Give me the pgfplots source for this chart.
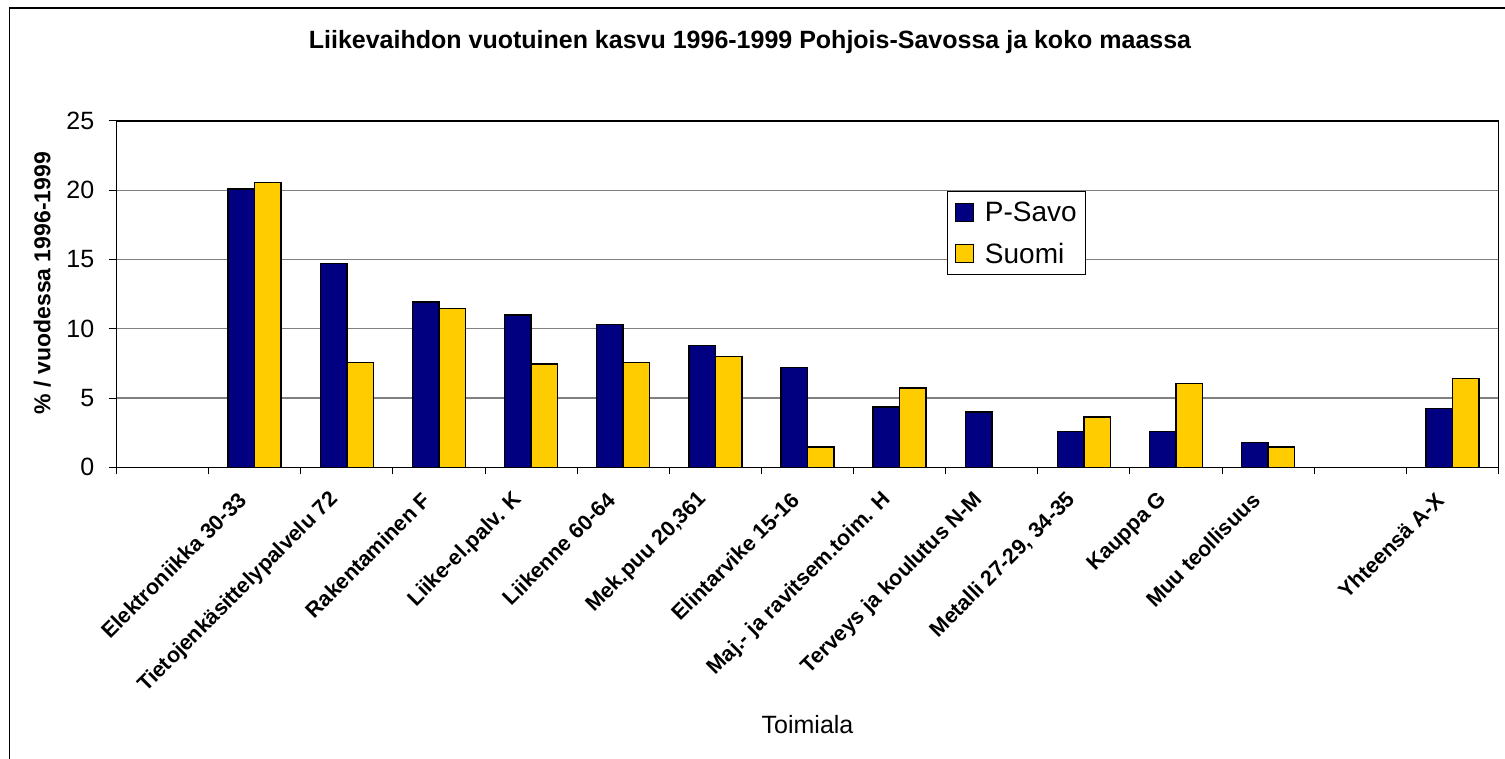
\documentclass[border=0pt]{standalone}
\usepackage{pgfplots}
\pgfplotsset{compat=1.18}
\usepackage{fontspec}
\setmainfont{Liberation Sans}
\definecolor{psavo}{HTML}{000080}
\definecolor{suomi}{HTML}{FFCC00}
\definecolor{gridgray}{HTML}{808080}
\begin{document}
\begin{tikzpicture}
\path[use as bounding box] (0,0) rectangle (1505pt,758pt);
\fill[white] (0,0) rectangle (1505pt,758pt);
\draw[line width=1.2pt] (9.3pt,-3pt) -- (9.3pt,750pt) -- (1510pt,750pt);
\begin{axis}[
  at={(116.5pt,290.7pt)}, anchor=south west,
  scale only axis, width=1382pt, height=346.3pt,
  ybar=0pt, bar width=26.5pt,
  xmin=0.5, xmax=15.5, ymin=0, ymax=25,
  ytick={0,5,10,15,20,25},
  xtick={1,...,15},
  minor xtick={0.5,1.5,...,15.5},
  xticklabels={{},{Elektroniikka 30-33},{Tietojenkäsittelypalvelu 72},{Rakentaminen F},{Liike-el.palv. K},{Liikenne 60-64},{Mek.puu 20,361},{Elintarvike 15-16},{Maj.- ja ravitsem.toim. H},{Terveys ja koulutus N-M},{Metalli 27-29, 34-35},{Kauppa G},{Muu teollisuus},{},{Yhteensä A-X}},
  tick pos=left,
  tick align=outside,
  major tick length=8pt,
  minor tick length=7pt,
  every major x tick/.append style={draw=none},
  tick style={black, line width=1pt},
  axis line style={black, line width=1.5pt},
  ymajorgrids,
  major grid style={gridgray, line width=1.2pt},
  /pgf/number format/assume math mode=true,
  yticklabel style={font=\fontsize{25}{30}\selectfont, anchor=east, inner sep=0pt, xshift=-14pt},
  xticklabel style={font=\bfseries\fontsize{21.5}{26}\selectfont, inner sep=0pt, xshift=-12pt, yshift=-21pt, rotate=45, anchor=east},
  title={Liikevaihdon vuotuinen kasvu 1996-1999 Pohjois-Savossa ja koko maassa},
  title style={at={(rel axis cs:0.4584,1.1906)}, anchor=base, inner sep=0pt, font=\bfseries\fontsize{25}{30}\selectfont},
  xlabel={Toimiala},
  xlabel style={at={(rel axis cs:0.5,-0.7701)}, anchor=base, inner sep=0pt, font=\fontsize{25}{30}\selectfont},
  ylabel={\% / vuodessa 1996-1999},
  ylabel style={at={(rel axis cs:-0.0478,0.532)}, anchor=base, inner sep=0pt, font=\bfseries\fontsize{23}{28}\selectfont},
  legend style={at={(rel axis cs:0.6007,0.7987)}, anchor=north west, draw=black, line width=1pt, fill=white,
    font=\fontsize{28}{33}\selectfont, inner xsep=8.3pt, inner ysep=11.05pt, row sep=21.5pt, column sep=10.5pt,
    nodes={inner sep=0pt, text depth=0pt}},
  legend cell align=left,
]
\addplot[fill=psavo, draw=black, line width=1.5pt,
  legend image code/.code={\draw[fill=psavo, draw=black, line width=1pt] (0pt,-9pt) rectangle (18pt,9pt);}]
  coordinates {(2,20.1) (3,14.7) (4,11.95) (5,11.0) (6,10.3) (7,8.8) (8,7.2) (9,4.35) (10,4.0) (11,2.6) (12,2.6) (13,1.8) (15,4.25)};
\addlegendentry{P-Savo}
\addplot[fill=suomi, draw=black, line width=1.5pt,
  legend image code/.code={\draw[fill=suomi, draw=black, line width=1pt] (0pt,-9pt) rectangle (18pt,9pt);}]
  coordinates {(2,20.55) (3,7.58) (4,11.47) (5,7.45) (6,7.55) (7,8.0) (8,1.45) (9,5.72) (11,3.62) (12,6.05) (13,1.45) (15,6.42)};
\addlegendentry{Suomi}
\end{axis}
\end{tikzpicture}
\end{document}
